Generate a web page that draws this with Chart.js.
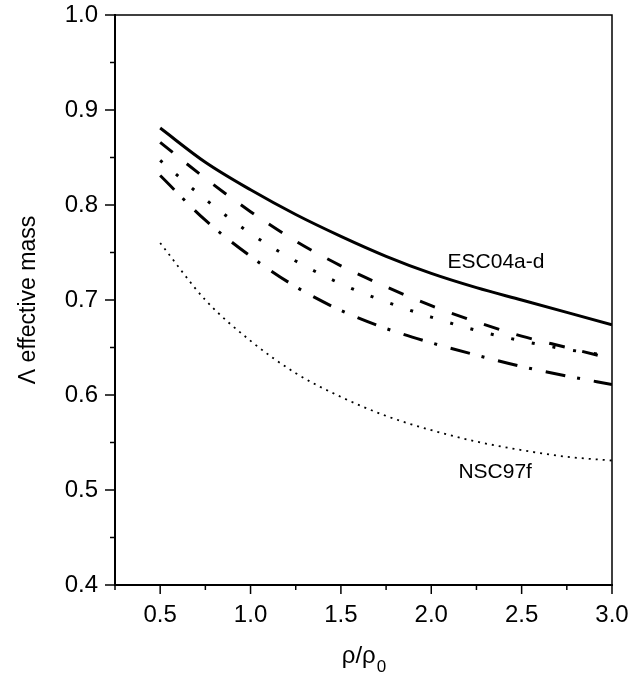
<!DOCTYPE html>
<html>
<head>
<meta charset="utf-8">
<script src="https://cdn.jsdelivr.net/npm/chart.js@4"></script>
<style>
  html, body { margin: 0; padding: 0; background: #fff; }
  #wrap { width: 634px; height: 687px; }
</style>
</head>
<body>
<div id="wrap"><canvas id="chartMass" width="634" height="687"></canvas></div>
<script>
// density points rho/rho0
const rho = [0.5, 0.75, 1.0, 1.25, 1.5, 1.75, 2.0, 2.25, 2.5, 2.75, 3.0];

// Lambda effective mass
const escSolid   = [0.881, 0.845, 0.816, 0.790, 0.767, 0.746, 0.728, 0.713, 0.700, 0.687, 0.674];
const escDashed  = [0.866, 0.828, 0.793, 0.762, 0.736, 0.714, 0.694, 0.677, 0.662, 0.650, 0.638];
const escDotted  = [0.847, 0.806, 0.770, 0.741, 0.717, 0.698, 0.682, 0.668, 0.657, 0.648, 0.641];
const escDashDot = [0.831, 0.784, 0.746, 0.714, 0.689, 0.670, 0.655, 0.642, 0.630, 0.620, 0.611];
const nsc97f     = [0.760, 0.700, 0.657, 0.623, 0.598, 0.578, 0.563, 0.551, 0.542, 0.535, 0.531];

const yMajor = [0.4, 0.5, 0.6, 0.7, 0.8, 0.9, 1.0];
const xMajor = [0.5, 1.0, 1.5, 2.0, 2.5, 3.0];

const curveLabels = [
  { text: 'ESC04a-d', x: 2.09, y: 0.740 },
  { text: 'NSC97f',   x: 2.15, y: 0.519 }
];

const FONT = "'Liberation Sans', Arial, sans-serif";

function pts(ys) {
  return rho.map((x, i) => ({ x: x, y: ys[i] }));
}

function isMajor(v, list) {
  return list.some(m => Math.abs(m - v) < 1e-6);
}

// frame, tick marks, curve names, x title
const decor = {
  id: 'decor',
  afterDraw(chart) {
    const ctx = chart.ctx;
    const a = chart.chartArea;
    const xs = chart.scales.x, ys = chart.scales.y;
    ctx.save();
    ctx.strokeStyle = '#000';
    ctx.lineWidth = 1.5;
    ctx.beginPath();
    ctx.moveTo(a.left, a.top);
    ctx.lineTo(a.right, a.top);
    ctx.lineTo(a.right, a.bottom);
    ctx.stroke();

    ys.ticks.forEach(t => {
      const py = ys.getPixelForValue(t.value);
      const len = isMajor(t.value, yMajor) ? 10 : 5;
      ctx.beginPath();
      ctx.moveTo(a.left - len, py);
      ctx.lineTo(a.left, py);
      ctx.stroke();
    });
    xs.ticks.forEach(t => {
      const px = xs.getPixelForValue(t.value);
      const len = isMajor(t.value, xMajor) ? 9 : 5;
      ctx.beginPath();
      ctx.moveTo(px, a.bottom);
      ctx.lineTo(px, a.bottom + len);
      ctx.stroke();
    });

    ctx.fillStyle = '#000';
    ctx.font = '21px ' + FONT;
    ctx.textBaseline = 'middle';
    ctx.textAlign = 'left';
    curveLabels.forEach(l => {
      ctx.fillText(l.text, xs.getPixelForValue(l.x), ys.getPixelForValue(l.y));
    });

    // x axis title rho/rho_0
    const cx = (a.left + a.right) / 2;
    ctx.font = '24px ' + FONT;
    ctx.textBaseline = 'alphabetic';
    const main = 'ρ/ρ';
    const wMain = ctx.measureText(main).width;
    ctx.font = '17px ' + FONT;
    const wSub = ctx.measureText('0').width;
    const x0 = cx - (wMain + wSub) / 2;
    ctx.font = '24px ' + FONT;
    ctx.fillText(main, x0, 663);
    ctx.font = '17px ' + FONT;
    ctx.fillText('0', x0 + wMain + 1, 672);
    ctx.restore();
  }
};

function line(label, data, width, dash) {
  return {
    label: label,
    data: pts(data),
    borderColor: '#000',
    borderWidth: width,
    borderDash: dash,
    pointRadius: 0,
    fill: false,
    cubicInterpolationMode: 'monotone'
  };
}

new Chart(document.getElementById('chartMass').getContext('2d'), {
  type: 'line',
  data: {
    datasets: [
      line('ESC04a', escSolid, 3, []),
      line('ESC04b', escDashed, 3, [16, 18]),
      line('ESC04c', escDotted, 3, [3, 18]),
      line('ESC04d', escDashDot, 3, [20, 12, 3, 14]),
      line('NSC97f', nsc97f, 1.8, [2, 5])
    ]
  },
  options: {
    responsive: false,
    animation: false,
    layout: { padding: { top: 15, right: 22, left: 0, bottom: 0 } },
    plugins: { legend: { display: false }, tooltip: { enabled: false } },
    scales: {
      x: {
        type: 'linear',
        min: 0.25,
        max: 3.0,
        afterFit: s => { s.height = 102; s.paddingLeft = 0; s.paddingRight = 0; },
        border: { display: true, color: '#000', width: 2 },
        grid: { drawOnChartArea: false, color: 'rgba(0,0,0,0)', tickLength: 10 },
        ticks: {
          stepSize: 0.25,
          autoSkip: false,
          maxRotation: 0,
          padding: 6,
          color: '#000',
          font: { family: FONT, size: 24 },
          callback: v => isMajor(v, xMajor) ? v.toFixed(1) : ''
        }
      },
      y: {
        type: 'linear',
        min: 0.4,
        max: 1.0,
        afterFit: s => { s.width = 115; s.paddingTop = 0; s.paddingBottom = 0; },
        border: { display: true, color: '#000', width: 2 },
        grid: { drawOnChartArea: false, color: 'rgba(0,0,0,0)', tickLength: 10 },
        ticks: {
          stepSize: 0.05,
          autoSkip: false,
          padding: 7,
          color: '#000',
          font: { family: FONT, size: 24 },
          callback: v => isMajor(v, yMajor) ? v.toFixed(1) : ''
        },
        title: {
          display: true,
          text: 'Λ effective mass',
          color: '#000',
          padding: { top: 15, bottom: 0 },
          font: { family: FONT, size: 23 }
        }
      }
    }
  },
  plugins: [decor]
});
</script>
</body>
</html>
